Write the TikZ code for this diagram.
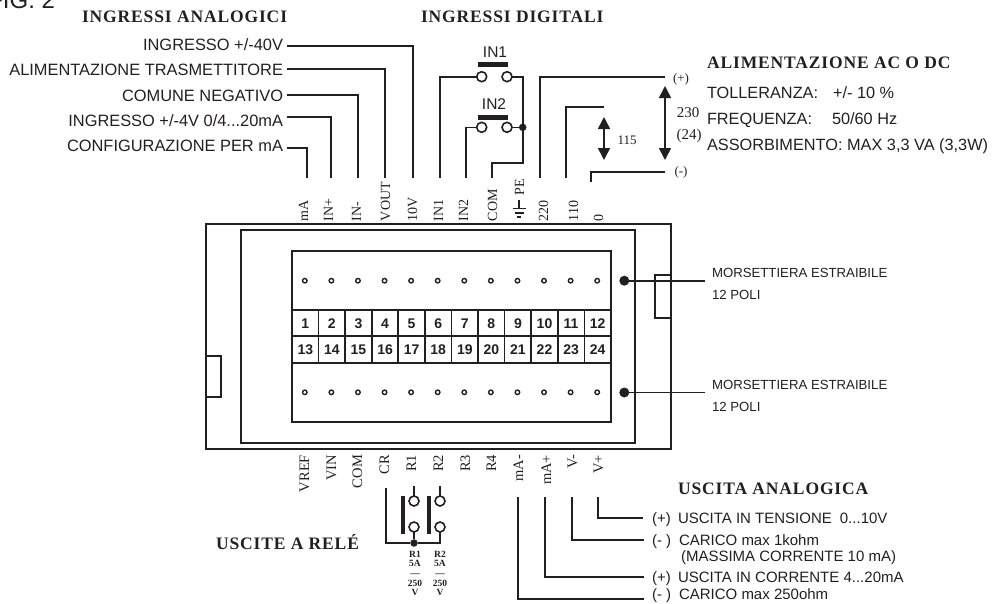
\documentclass[tikz,border=0pt]{standalone}
\usepackage{fontspec}
\setmainfont{Liberation Sans}
\newfontfamily\serifface{Liberation Serif}
\newfontfamily\headface[LetterSpace=5]{Liberation Serif}
\usetikzlibrary{arrows.meta,calc}
\definecolor{ink}{HTML}{231F20}
\newcommand{\fsz}[1]{\fontsize{#1}{#1}\selectfont}
\tikzset{
  x=1pt,y=-1pt,
  every node/.style={inner sep=0pt,outer sep=0pt,text=ink},
  wire/.style={draw=ink,line width=1.6pt},
  boxline/.style={draw=ink,line width=1.7pt},
  sans/.style={font=\fsz{16.3}},
  sansr/.style={font=\fsz{16.4},anchor=base east},
  sansl/.style={sans,anchor=base west},
  outl/.style={font=\fsz{15},anchor=base west},
  morse/.style={font=\fsz{13.2},anchor=base west},
  headline/.style={font=\headface\bfseries\fsz{17.5},anchor=base west},
  toplbl/.style={font=\serifface\fsz{14},rotate=90,anchor=base west},
  botlbl/.style={font=\serifface\fsz{14.5},rotate=90,anchor=base east},
  small/.style={font=\serifface\fsz{13}},
  mid/.style={font=\serifface\fsz{15}},
  num/.style={font=\bfseries\fsz{14}},
  contact/.style={circle,draw=ink,line width=1.6pt,fill=white,minimum size=10pt},
  pin/.style={circle,draw=ink,line width=1.4pt,fill=white,minimum size=4.5pt},
  blob/.style={circle,fill=ink,minimum size=#1},
  thickbar/.style={draw=ink,line width=5pt},
  relaybar/.style={draw=ink,line width=3.2pt},
  rating/.style={font=\serifface\bfseries\fontsize{9.5}{9.6}\selectfont,align=center,anchor=north},
  dblarrow/.style={draw=ink,line width=1.6pt,{Triangle[length=12pt,width=12pt]}-{Triangle[length=12pt,width=12pt]}},
}
\begin{document}
\begin{tikzpicture}
\useasboundingbox (0,0) rectangle (992,603);
% titles
\node[font=\fsz{24},anchor=base east] (fig) at (55,8) {FIG. 2};
\node[headline] (hA) at (82,22) {INGRESSI ANALOGICI};
\node[headline] (hD) at (421,22) {INGRESSI DIGITALI};
\node[headline] (hP) at (707,68) {ALIMENTAZIONE AC O DC};
\node[headline] (hU) at (678,494) {USCITA ANALOGICA};
\node[headline] (hR) at (216,549) {USCITE A RELÉ};
% boxes
\draw[boxline] (206,224) rectangle (671,449);
\draw[boxline] (241,230) rectangle (635,443);
\draw[boxline] (292,251) rectangle (611,422);
\draw[boxline,fill=white] (655,275) rectangle (671,318);
\draw[boxline,fill=white] (206,356) rectangle (221,397);
\draw[boxline] (292,310) -- (611,310);
\draw[boxline] (292,336) -- (611,336);
\draw[boxline] (292,363) -- (611,363);
\foreach \i in {1,...,11} \draw[boxline] ({292+26.58*\i},310) -- ({292+26.58*\i},363);
\foreach \i in {1,...,12} {
  \pgfmathsetmacro{\cx}{305.3+26.58*(\i-1)}
  \pgfmathtruncatemacro{\j}{\i+12}
  \node[num] (n\i) at (\cx,323.5) {\i};
  \node[num] (n\j) at (\cx,350) {\j};
  \node[pin] (pu\i) at (\cx-0.5,280.7) {};
  \node[pin] (pd\i) at (\cx-0.5,392.3) {};
}
% connector handles
\node[blob=10pt] (bu) at (624.3,280.7) {};
\node[blob=10pt] (bd) at (624.3,392.5) {};
\node[morse] (mu) at (712,277) {MORSETTIERA ESTRAIBILE};
\node[morse] (mua) at (712,299) {12 POLI};
\node[morse] (md) at (712,389) {MORSETTIERA ESTRAIBILE};
\node[morse] (mda) at (712,411) {12 POLI};
\coordinate (mue) at (705,280.7);
\coordinate (mde) at (705,392.5);
\draw[wire] (bu) -- (mue);
\draw[wire] (bd) -- (mde);
% top labels
\foreach \t/\x/\nm in {mA/308/lmA,IN+/333/lINp,IN-/361/lINm,VOUT/390/lVOUT,10V/417/lTen,IN1/443/lINa,IN2/468/lINb,COM/497/lCOM,220/548/lDD,110/578/lCC,0/603/lZ}
  \node[toplbl] (\nm) at (\x,221) {\t};
\node[toplbl] (lPE) at (524,195) {PE};
% analog input labels
\node[sansr] (a1) at (283,50) {INGRESSO +/-40V};
\node[sansr] (a2) at (283,75.5) {ALIMENTAZIONE TRASMETTITORE};
\node[sansr] (a3) at (283,101) {COMUNE NEGATIVO};
\node[sansr] (a4) at (283,126.5) {INGRESSO +/-4V 0/4...20mA};
\node[sansr] (a5) at (283,151.5) {CONFIGURAZIONE PER mA};
\coordinate (a1s) at (287,46); \coordinate (a1e) at (412.7,178);
\coordinate (a2s) at (287,69); \coordinate (a2e) at (385,178);
\coordinate (a3s) at (287,95); \coordinate (a3e) at (358,178);
\coordinate (a4s) at (287,117); \coordinate (a4e) at (331,178);
\coordinate (a5s) at (287,148); \coordinate (a5e) at (307,178);
\foreach \k in {1,...,5} \draw[wire] (a\k s) -| (a\k e);
% digital inputs
\node[font=\fsz{15.5}] (ti1) at (495,52) {IN1};
\node[font=\fsz{15.5}] (ti2) at (494,104) {IN2};
\coordinate (b1a) at (478,64.7); \coordinate (b1b) at (508,64.7);
\coordinate (b2a) at (478,117.7); \coordinate (b2b) at (508,117.7);
\draw[thickbar] (b1a) -- (b1b);
\draw[thickbar] (b2a) -- (b2b);
\coordinate (d1) at (440,178); \coordinate (d2) at (466,178); \coordinate (d3) at (491.7,178);
\coordinate (bus) at (522.7,76.7);
\coordinate (busm) at (522.7,163);
\node[contact] (c1a) at (481.7,76.7) {};
\node[contact] (c1b) at (507,76.7) {};
\node[contact] (c2a) at (481.7,127.3) {};
\node[contact] (c2b) at (507,127.3) {};
\node[blob=7.5pt] (j1) at (522.7,127.3) {};
\draw[wire] (d1) |- (c1a);
\draw[wire] (d2) |- (c2a);
\draw[wire] (c1b) -- (bus) -- (busm) -| (d3);
\draw[wire] (c2b) -- (j1);
% earth
\coordinate (g0) at (519,200); \coordinate (g1) at (519,208);
\draw[wire] (g0) -- (g1);
\draw[wire] (512.5,208.5) -- (525.5,208.5);
\draw[wire] (514.5,212.8) -- (523.5,212.8);
\draw[wire] (517,217) -- (521,217);
% supply
\coordinate (p1) at (540,178); \coordinate (p1e) at (665,76.7);
\coordinate (p2) at (565.7,178); \coordinate (p2e) at (604,107);
\coordinate (p3) at (591,182); \coordinate (p3e) at (665,172);
\draw[wire] (p1) |- (p1e);
\draw[wire] (p2) |- (p2e);
\draw[wire] (p3) |- (p3e);
\coordinate (ar1) at (604,117); \coordinate (ar1e) at (604,160);
\coordinate (ar2) at (665,86); \coordinate (ar2e) at (665,160);
\draw[dblarrow] (ar1) -- (ar1e);
\draw[dblarrow] (ar2) -- (ar2e);
\node[small] (v115) at (627,140) {115};
\node[small] (pp) at (681,79) {(+)};
\node[small] (pm) at (681,172) {(-)};
\node[mid] (v230) at (688,113) {230};
\node[mid] (v24) at (689,136) {(24)};
\node[sansl] (s1) at (707,98) {TOLLERANZA:};
\node[sansl] (s1v) at (833,98) {+/- 10 \%};
\node[sansl] (s2) at (707,124) {FREQUENZA:};
\node[sansl] (s2v) at (832,124) {50/60 Hz};
\node[sansl] (s3) at (707,150) {ASSORBIMENTO: MAX 3,3 VA (3,3W)};
% bottom labels
\foreach \t/\x/\nm in {VREF/309/bVREF,VIN/336/bVIN,COM/362/bCOM,CR/389/bCR,R1/416/bRa,R2/443/bRb,R3/470/bRc,R4/496/bRd,mA-/523/bmAm,mA+/551/bmAp,V-/577/bVm,V+/603/bVp}
  \node[botlbl] (\nm) at (\x,455) {\t};
% relay
\coordinate (rc) at (386,488);
\coordinate (r1s) at (414,486); \coordinate (r2s) at (440,486);
\coordinate (rb) at (440,543);
\node[contact] (r1t) at (414,501) {};
\node[contact] (r1b) at (414,527) {};
\node[contact] (r2t) at (440,501) {};
\node[contact] (r2b) at (440,527) {};
\node[blob=7.5pt] (r1j) at (414,543) {};
\draw[wire] (r1s) -- (r1t);
\draw[wire] (r2s) -- (r2t);
\draw[wire] (rc) |- (r1j) -- (rb) -- (r2b);
\draw[wire] (r1b) -- (r1j);
\coordinate (y1a) at (403,496); \coordinate (y1b) at (403,534);
\coordinate (y2a) at (429,496); \coordinate (y2b) at (429,534);
\draw[relaybar] (y1a) -- (y1b);
\draw[relaybar] (y2a) -- (y2b);
\node[rating] (ra) at (415,551) {R1\\5A\\—\\250\\V};
\node[rating] (rb2) at (440,551) {R2\\5A\\—\\250\\V};
% analog outputs
\coordinate (o1) at (598,497); \coordinate (o1e) at (642.7,518);
\coordinate (o2) at (572,497); \coordinate (o2e) at (644,540);
\coordinate (o3) at (544.7,497); \coordinate (o3e) at (644,577);
\coordinate (o4) at (518,497); \coordinate (o4e) at (644,599);
\foreach \k in {1,...,4} \draw[wire] (o\k) |- (o\k e);
\node[outl] (u1s) at (652,523) {(+)};
\node[outl] (u1) at (678,523) {USCITA IN TENSIONE\hspace{8pt}0...10V};
\node[outl] (u2s) at (652,545) {(- )};
\node[outl] (u2) at (679,545) {CARICO max 1kohm};
\node[outl] (u3) at (681,561) {(MASSIMA CORRENTE 10 mA)};
\node[outl] (u4s) at (652,582) {(+)};
\node[outl] (u4) at (678,582) {USCITA IN CORRENTE 4...20mA};
\node[outl] (u5s) at (652,599.5) {(- )};
\node[outl] (u5) at (679,599.5) {CARICO max 250ohm};
\end{tikzpicture}
\end{document}
